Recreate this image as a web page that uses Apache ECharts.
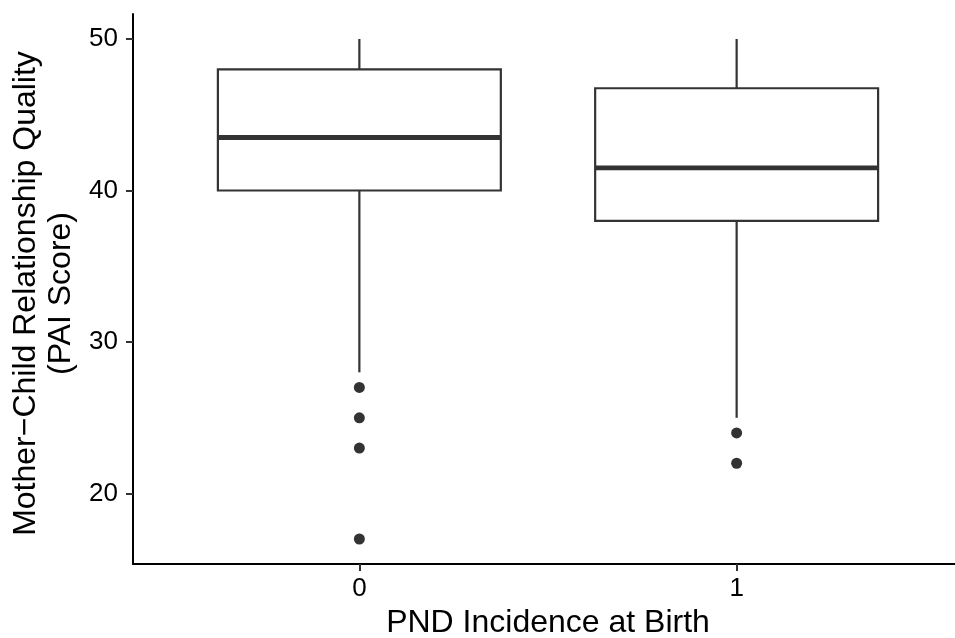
<!DOCTYPE html>
<html>
<head>
<meta charset="utf-8">
<script src="https://cdn.jsdelivr.net/npm/echarts@6/dist/echarts.min.js"></script>
<style>
html,body{margin:0;padding:0;background:#fff;}
#chart{width:955px;height:638px;}
</style>
</head>
<body>
<div id="chart"></div>
<script>
// Data
var categories = ['0', '1'];
// [low whisker, Q1, median, Q3, high whisker]
var boxStats = [
  [28, 40, 43.5, 48, 50],
  [25, 38, 41.5, 46.75, 50]
];
var outliers0 = [27, 25, 23, 17];
var outliers1 = [24, 22];
var yTicks = [20, 30, 40, 50];
var xTitle = 'PND Incidence at Birth';
var yTitle = 'Mother\u2212Child Relationship Quality\n(PAI Score)';

var boxData = boxStats.map(function (s, i) { return [i].concat(s); });
var outlierData = [];
outliers0.forEach(function (v) { outlierData.push([0, v]); });
outliers1.forEach(function (v) { outlierData.push([1, v]); });

var FONT = '"Liberation Sans", Arial, Helvetica, sans-serif';
var LINE = '#333333';

function renderBox(params, api) {
  var x = api.value(0);
  var lo = api.value(1), q1 = api.value(2), med = api.value(3), q3 = api.value(4), hi = api.value(5);
  var halfW = api.size([0.75, 0])[0] / 2;
  var pLo = api.coord([x, lo]), pQ1 = api.coord([x, q1]), pMed = api.coord([x, med]);
  var pQ3 = api.coord([x, q3]), pHi = api.coord([x, hi]);
  var cx = pLo[0];
  var st = { stroke: LINE, lineWidth: 2.2, fill: null };
  return {
    type: 'group',
    children: [
      { type: 'line', shape: { x1: cx, y1: pHi[1], x2: cx, y2: pQ3[1] }, style: st },
      { type: 'line', shape: { x1: cx, y1: pQ1[1], x2: cx, y2: pLo[1] }, style: st },
      { type: 'rect', shape: { x: cx - halfW, y: pQ3[1], width: halfW * 2, height: pQ1[1] - pQ3[1] },
        style: { stroke: LINE, lineWidth: 2.2, fill: '#ffffff' } },
      { type: 'line', shape: { x1: cx - halfW, y1: pMed[1], x2: cx + halfW, y2: pMed[1] },
        style: { stroke: LINE, lineWidth: 4.8 } }
    ]
  };
}

var chart = echarts.init(document.getElementById('chart'), null, { renderer: 'canvas' });
chart.setOption({
  backgroundColor: '#ffffff',
  animation: false,
  textStyle: { fontFamily: FONT },
  grid: { left: 133, top: 14, width: 830, height: 550, containLabel: false, outerBoundsMode: 'none' },
  xAxis: {
    type: 'value',
    min: -0.6,
    max: 1.6,
    splitLine: { show: false },
    axisLine: { show: true, onZero: false, lineStyle: { color: '#000', width: 2 } },
    axisTick: { show: true, length: 7, customValues: [0, 1], lineStyle: { color: LINE, width: 2 } },
    axisLabel: {
      customValues: [0, 1],
      margin: 12,
      fontSize: 26,
      color: '#000',
      fontFamily: FONT,
      formatter: function (v) { return categories[Math.round(v)]; }
    },
    name: xTitle,
    nameLocation: 'middle',
    nameGap: 43,
    nameTextStyle: { fontSize: 32, color: '#000', fontFamily: FONT }
  },
  yAxis: {
    type: 'value',
    min: 15.35,
    max: 51.65,
    splitLine: { show: false },
    axisLine: { show: true, onZero: false, lineStyle: { color: '#000', width: 2 } },
    axisTick: { show: true, length: 7, customValues: yTicks, lineStyle: { color: LINE, width: 2 } },
    axisLabel: {
      customValues: yTicks,
      margin: 15,
      fontSize: 26,
      color: '#000',
      fontFamily: FONT
    },
    name: yTitle,
    nameLocation: 'middle',
    nameRotate: 90,
    nameGap: 52,
    nameTextStyle: { fontSize: 32, lineHeight: 35, color: '#000', fontFamily: FONT, align: 'center', padding: [0, 9, 0, 0] }
  },
  series: [
    {
      type: 'custom',
      renderItem: renderBox,
      data: boxData,
      encode: { x: 0, y: [1, 2, 3, 4, 5] },
      clip: false,
      z: 2
    },
    {
      type: 'scatter',
      data: outlierData,
      symbol: 'circle',
      symbolSize: 11,
      itemStyle: { color: LINE, opacity: 1 },
      z: 3
    }
  ]
});
</script>
</body>
</html>
